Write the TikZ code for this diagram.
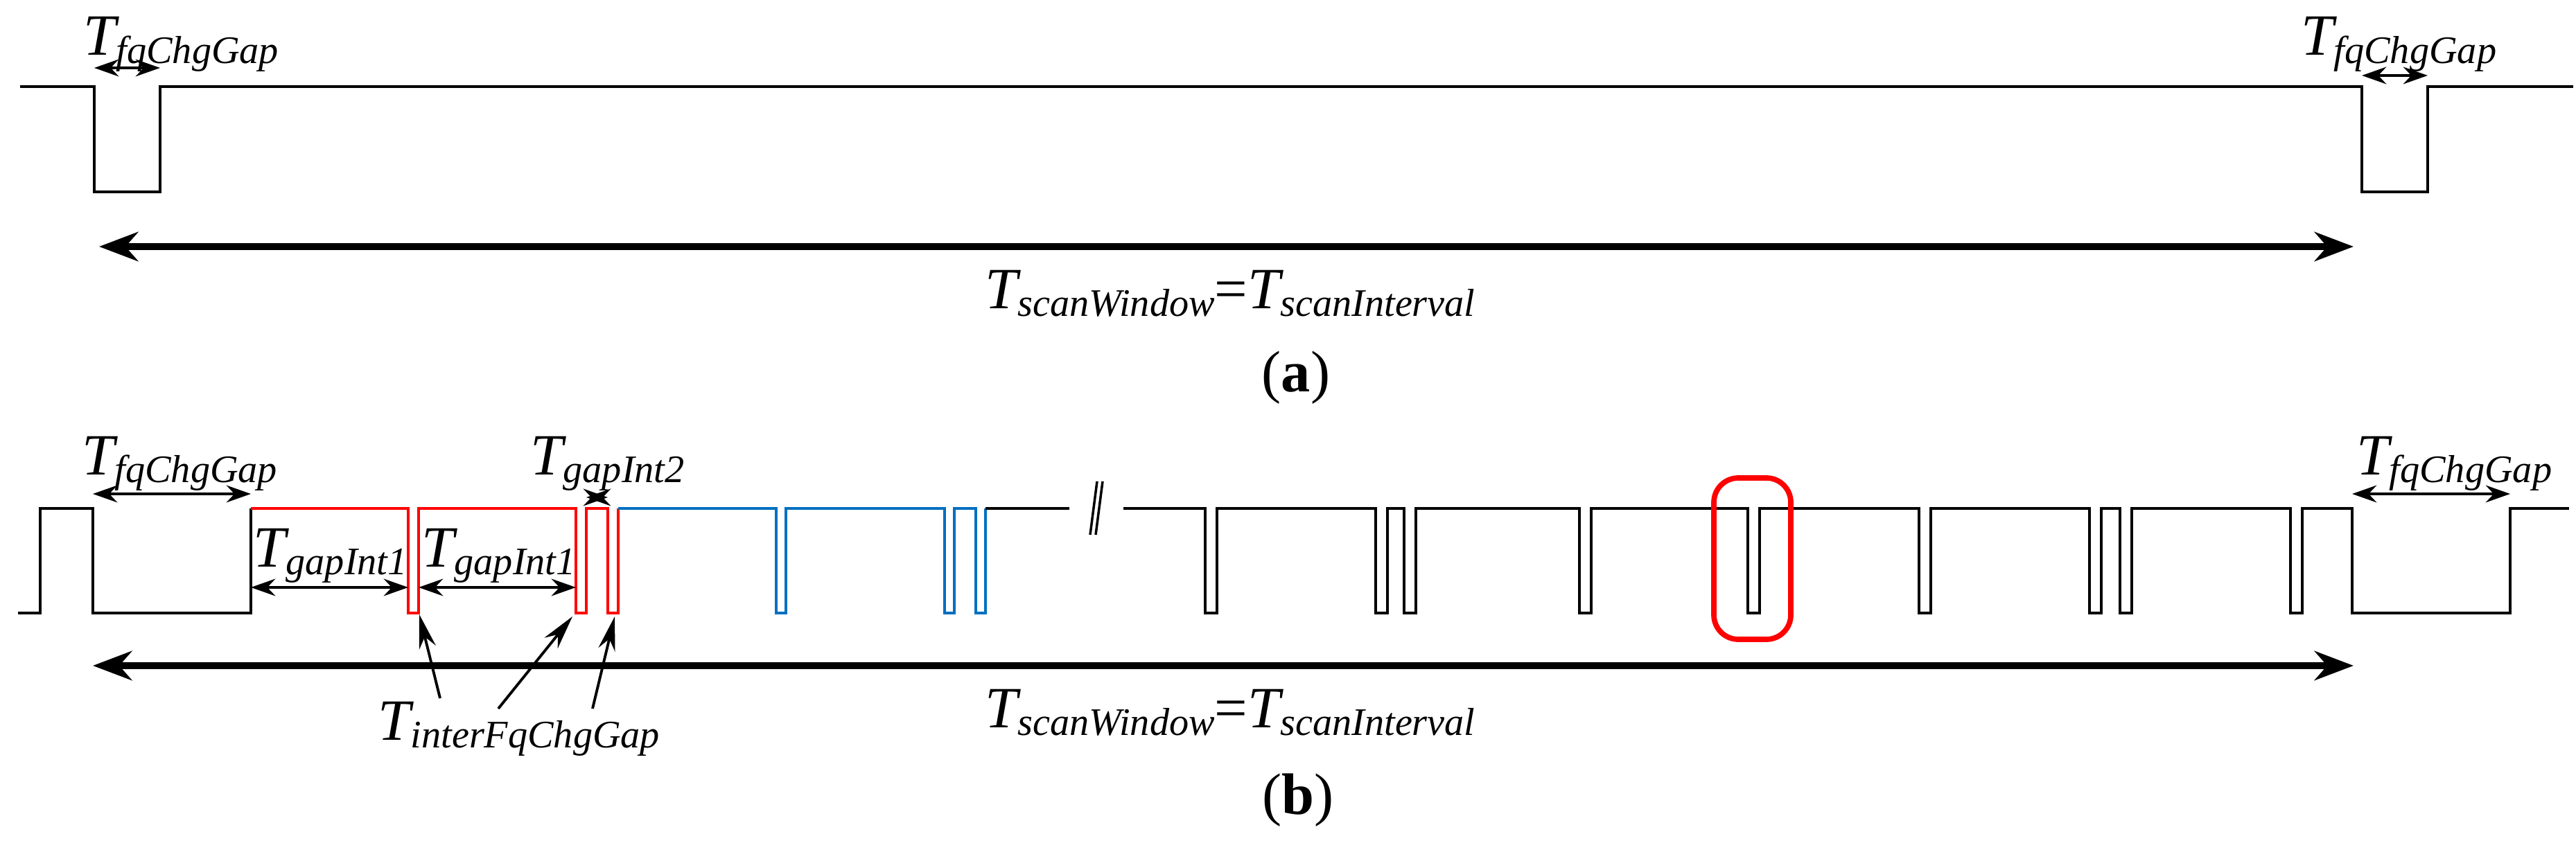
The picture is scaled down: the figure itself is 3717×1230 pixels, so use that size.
\documentclass[tikz,border=0pt]{standalone}
\usepackage{fontspec}
\setmainfont{Liberation Serif}
\usetikzlibrary{arrows.meta}
\begin{document}
\begin{tikzpicture}[x=0.01cm,y=-0.01cm,
 sig/.style={line width=1.1pt,line join=miter},
 dim/.style={line width=1.2pt,{Stealth[length=10pt,width=7pt]}-{Stealth[length=10pt,width=7pt]}},
 big/.style={line width=2.6pt,{Stealth[length=16pt,width=12pt]}-{Stealth[length=16pt,width=12pt]}},
 lab/.style={font=\fontsize{24}{28}\selectfont\itshape,inner sep=0pt},
 ptr/.style={line width=1.1pt,-{Stealth[length=14pt,width=7pt]}}]
\useasboundingbox (0,0) rectangle (3717,1230);
% ---------- (a)
\draw[sig] (29,125) -- (136,125) -- (136,277) -- (231,277) -- (231,125) -- (3408,125) -- (3408,277) -- (3503,277) -- (3503,125) -- (3713,125);
\draw[dim] (136,98) -- (231,98);
\draw[dim] (3408,109) -- (3503,109);
\node[lab,anchor=base west] (fa1) at (120,80) {T\raisebox{-0.3ex}{\fontsize{16}{18}\selectfont fqChgGap}};
\node[lab,anchor=base west] (fa2) at (3320,80) {T\raisebox{-0.3ex}{\fontsize{16}{18}\selectfont fqChgGap}};
\draw[big] (143,356) -- (3396,356);
\node[lab,anchor=base] (swa) at (1775,445) {T\raisebox{-0.3ex}{\fontsize{16}{18}\selectfont scanWindow}\upshape=\itshape T\raisebox{-0.3ex}{\fontsize{16}{18}\selectfont scanInterval}};
\node[font=\fontsize{24}{28}\selectfont,inner sep=0pt] (capa) at (1870,545) {(\textbf{a})};
% ---------- (b)
\draw[sig] (26,885) -- (58,885) -- (58,734) -- (134,734) -- (134,885) -- (362,885) -- (362,734);
\draw[sig,red] (362,734) -- (589,734) -- (589,885) -- (604,885) -- (604,734) -- (831,734) -- (831,885) -- (846,885) -- (846,734) -- (877,734) -- (877,885) -- (892,885) -- (892,734);
\draw[sig,color={rgb,255:red,0;green,112;blue,192}] (892,734) -- (1120,734) -- (1120,885) -- (1134,885) -- (1134,734) -- (1363,734) -- (1363,885) -- (1377,885) -- (1377,734) -- (1408,734) -- (1408,885) -- (1422,885) -- (1422,734);
\draw[sig] (1422,734) -- (1543,734);
\draw[line width=1pt] (1573,772) -- (1583,695) (1581,772) -- (1591,695);
\draw[sig] (1621,734) foreach \p in {1739,1985,2026,2279,2522,2769,3015,3059,3305} { -- (\p,734) -- (\p,885) -- (\p+17,885) -- (\p+17,734) } -- (3394,734) -- (3394,885) -- (3622,885) -- (3622,734) -- (3707,734);
\draw[red,line width=2.2pt,rounded corners=10pt] (2473,690) rectangle (2584,923);
\draw[dim] (134,713) -- (362,713);
\draw[dim] (3394,713) -- (3622,713);
\draw[dim] (846,718) -- (877,718);
\draw[dim] (362,848) -- (589,848);
\draw[dim] (604,848) -- (831,848);
\node[lab,anchor=base west] (fb1) at (118,685) {T\raisebox{-0.3ex}{\fontsize{16}{18}\selectfont fqChgGap}};
\node[lab,anchor=base west] (fb2) at (3400,685) {T\raisebox{-0.3ex}{\fontsize{16}{18}\selectfont fqChgGap}};
\node[lab,anchor=base west] (g2) at (765,685) {T\raisebox{-0.3ex}{\fontsize{16}{18}\selectfont gapInt2}};
\node[lab,anchor=base west] (g1a) at (365,818) {T\raisebox{-0.3ex}{\fontsize{16}{18}\selectfont gapInt1}};
\node[lab,anchor=base west] (g1b) at (608,818) {T\raisebox{-0.3ex}{\fontsize{16}{18}\selectfont gapInt1}};
\draw[big] (134,961) -- (3396,961);
\node[lab,anchor=base] (swb) at (1775,1050) {T\raisebox{-0.3ex}{\fontsize{16}{18}\selectfont scanWindow}\upshape=\itshape T\raisebox{-0.3ex}{\fontsize{16}{18}\selectfont scanInterval}};
\node[lab,anchor=base west] (ifq) at (545,1068) {T\raisebox{-0.3ex}{\fontsize{16}{18}\selectfont interFqChgGap}};
\coordinate (p1) at (605,887);
\coordinate (p2) at (826,890);
\coordinate (p3) at (887,890);
\draw[ptr] (635,1008) -- (p1);
\draw[ptr] (719,1023) -- (p2);
\draw[ptr] (855,1023) -- (p3);
\node[font=\fontsize{24}{28}\selectfont,inner sep=0pt] (capb) at (1873,1155) {(\textbf{b})};
\end{tikzpicture}
\end{document}
